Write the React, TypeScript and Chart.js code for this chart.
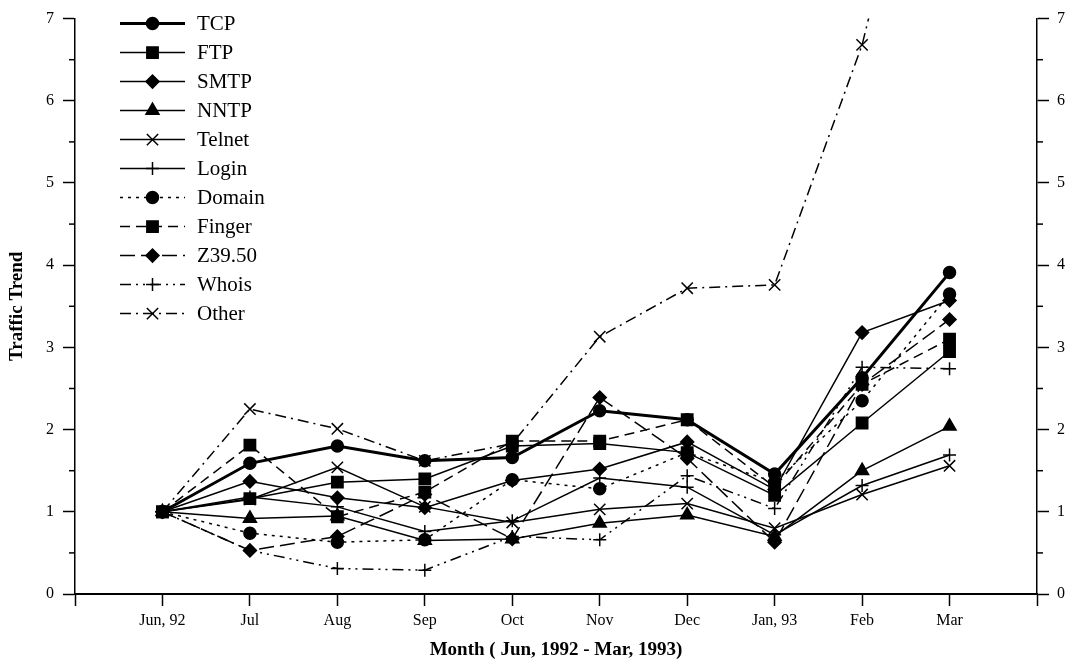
import React, { useEffect, useRef } from 'react';
import { Chart, registerables } from 'chart.js';
import { drawPoint } from 'chart.js/helpers';

Chart.register(...registerables);

const months = ['Jun, 92', 'Jul', 'Aug', 'Sep', 'Oct', 'Nov', 'Dec', 'Jan, 93', 'Feb', 'Mar'];
const yTicks = [0, 1, 2, 3, 4, 5, 6, 7];
const yMinorTicks = [0.5, 1.5, 2.5, 3.5, 4.5, 5.5, 6.5];

const tcp = [1.0, 1.59, 1.8, 1.62, 1.66, 2.23, 2.12, 1.46, 2.63, 3.91];
const ftp = [1.0, 1.16, 1.36, 1.4, 1.8, 1.83, 1.72, 1.2, 2.08, 2.95];
const smtp = [1.0, 1.37, 1.17, 1.05, 1.38, 1.52, 1.85, 1.27, 3.18, 3.57];
const nntp = [1.0, 0.92, 0.95, 0.65, 0.67, 0.86, 0.96, 0.7, 1.5, 2.04];
const telnet = [1.0, 1.15, 1.54, 1.06, 0.87, 1.03, 1.1, 0.8, 1.21, 1.56];
const login = [1.0, 1.18, 1.06, 0.76, 0.89, 1.41, 1.3, 0.72, 1.32, 1.69];
const domain = [1.0, 0.74, 0.63, 0.66, 1.39, 1.28, 1.72, 1.36, 2.35, 3.65];
const finger = [1.0, 1.81, 0.94, 1.24, 1.86, 1.86, 2.12, 1.3, 2.55, 3.1];
const z3950 = [1.0, 0.53, 0.7, 1.21, 0.67, 2.39, 1.65, 0.63, 2.55, 3.34];
const whois = [1.0, 0.53, 0.31, 0.29, 0.7, 0.66, 1.44, 1.04, 2.76, 2.74];
const other = [1.0, 2.25, 2.01, 1.62, 1.83, 3.13, 3.72, 3.76, 6.68, 11.0];

const seriesNames = ['TCP', 'FTP', 'SMTP', 'NNTP', 'Telnet', 'Login', 'Domain', 'Finger', 'Z39.50', 'Whois', 'Other'];
const seriesValues = [tcp, ftp, smtp, nntp, telnet, login, domain, finger, z3950, whois, other];

const styleFor = [
  { pointStyle: 'circle', radius: 6, width: 3, dash: [] as number[] },
  { pointStyle: 'rect', radius: 8, width: 1.5, dash: [] },
  { pointStyle: 'rectRot', radius: 6.5, width: 1.5, dash: [] },
  { pointStyle: 'triangle', radius: 7.5, width: 1.5, dash: [] },
  { pointStyle: 'crossRot', radius: 8, width: 1.5, dash: [] },
  { pointStyle: 'cross', radius: 6.5, width: 1.5, dash: [] },
  { pointStyle: 'circle', radius: 6, width: 1.5, dash: [3, 5] },
  { pointStyle: 'rect', radius: 8, width: 1.5, dash: [10, 6] },
  { pointStyle: 'rectRot', radius: 6.5, width: 1.5, dash: [15, 6] },
  { pointStyle: 'cross', radius: 6.5, width: 1.5, dash: [11, 5, 2, 5, 2, 5] },
  { pointStyle: 'crossRot', radius: 8, width: 1.5, dash: [11, 5, 2, 5] },
];

const FONT = "'Liberation Serif', 'Times New Roman', serif";

const overlayPlugin = {
  id: 'overlay',
  afterDraw(chart: any) {
    const ctx = chart.ctx;
    const yl = chart.scales.y;
    const yr = chart.scales.y2;
    ctx.save();
    ctx.strokeStyle = '#000';
    ctx.fillStyle = '#000';
    ctx.lineWidth = 1.5;
    for (const v of yMinorTicks) {
      const py = yl.getPixelForValue(v);
      ctx.beginPath();
      ctx.moveTo(yl.right - 6, py);
      ctx.lineTo(yl.right, py);
      ctx.stroke();
      ctx.beginPath();
      ctx.moveTo(yr.left, py);
      ctx.lineTo(yr.left + 6, py);
      ctx.stroke();
    }
    // legend
    const area = chart.chartArea;
    const x0 = area.left + 45;
    const x1 = area.left + 110;
    const xm = (x0 + x1) / 2;
    const top = area.top + 5;
    const gap = 29;
    ctx.font = `21px ${FONT}`;
    ctx.textBaseline = 'middle';
    ctx.textAlign = 'left';
    chart.data.datasets.forEach((ds: any, i: number) => {
      const y = top + i * gap;
      ctx.setLineDash(ds.borderDash || []);
      ctx.lineWidth = ds.borderWidth;
      ctx.beginPath();
      ctx.moveTo(x0, y);
      ctx.lineTo(x1, y);
      ctx.stroke();
      ctx.setLineDash([]);
      ctx.lineWidth = 1.5;
      drawPoint(ctx, { pointStyle: ds.pointStyle, radius: ds.pointRadius, borderWidth: 1, rotation: 0 } as any, xm, y);
      ctx.fillText(ds.label, x1 + 12, y + 1);
    });
    ctx.restore();
  },
};

export default function App() {
  const ref = useRef<HTMLCanvasElement>(null);
  useEffect(() => {
    if (!ref.current) return;
    const datasets = seriesNames.map((name, i) => ({
      label: name,
      data: seriesValues[i].map((v, k) => ({ x: k, y: v })),
      borderColor: '#000',
      backgroundColor: '#000',
      borderWidth: styleFor[i].width,
      borderDash: styleFor[i].dash,
      pointStyle: styleFor[i].pointStyle,
      pointRadius: styleFor[i].radius,
      pointBorderWidth: 1.5,
      pointBackgroundColor: '#000',
      pointBorderColor: '#000',
      tension: 0,
      fill: false,
    }));
    const chart = new Chart(ref.current, {
      type: 'line',
      data: { datasets } as any,
      plugins: [overlayPlugin],
      options: {
        animation: false,
        responsive: false,
        events: [],
        layout: { padding: { top: 17, left: 0, right: 0, bottom: 0 } },
        plugins: { legend: { display: false }, tooltip: { enabled: false } },
        scales: {
          x: {
            type: 'linear',
            position: 'bottom',
            min: -1,
            max: 10,
            afterFit: (s: any) => { s.height = 71; },
            afterBuildTicks: (s: any) => {
              const t = [];
              for (let k = -1; k <= 10; k++) t.push({ value: k });
              s.ticks = t;
            },
            ticks: {
              stepSize: 1,
              autoSkip: false,
              maxRotation: 0,
              padding: 5,
              color: '#000',
              font: { family: FONT, size: 16 },
              callback: (v: any) => (months[v as number] !== undefined ? months[v as number] : ''),
            },
            grid: { drawOnChartArea: false, drawTicks: true, tickLength: 12, color: '#000', tickWidth: 1.5 },
            border: { display: true, color: '#000', width: 2 },
            title: {
              display: true,
              text: 'Month ( Jun, 1992 - Mar, 1993)',
              color: '#000',
              font: { family: FONT, size: 19, weight: 'bold' },
              padding: { top: 0, bottom: 4 },
            },
          },
          y: {
            type: 'linear',
            position: 'left',
            min: 0,
            max: 7,
            afterFit: (s: any) => { s.width = 75; },
            afterBuildTicks: (s: any) => { s.ticks = yTicks.map((v) => ({ value: v })); },
            ticks: { padding: 9, color: '#000', font: { family: FONT, size: 16 } },
            grid: { drawOnChartArea: false, tickLength: 12, color: '#000', tickWidth: 1.5 },
            border: { display: true, color: '#000', width: 1.5 },
            title: {
              display: true,
              text: 'Traffic Trend',
              color: '#000',
              font: { family: FONT, size: 19, weight: 'bold' },
              padding: { top: 6, bottom: 0 },
            },
          },
          y2: {
            type: 'linear',
            position: 'right',
            min: 0,
            max: 7,
            afterFit: (s: any) => { s.width = 32; },
            afterBuildTicks: (s: any) => { s.ticks = yTicks.map((v) => ({ value: v })); },
            ticks: { padding: 8, color: '#000', font: { family: FONT, size: 16 } },
            grid: { drawOnChartArea: false, tickLength: 12, color: '#000', tickWidth: 1.5 },
            border: { display: true, color: '#000', width: 1.5 },
          },
        },
      } as any,
    });
    return () => chart.destroy();
  }, []);
  return (
    <div style={{ position: 'absolute', left: 0, top: 0, width: 1069, height: 665, background: '#fff' }}>
      <canvas ref={ref} width={1069} height={665} />
    </div>
  );
}
